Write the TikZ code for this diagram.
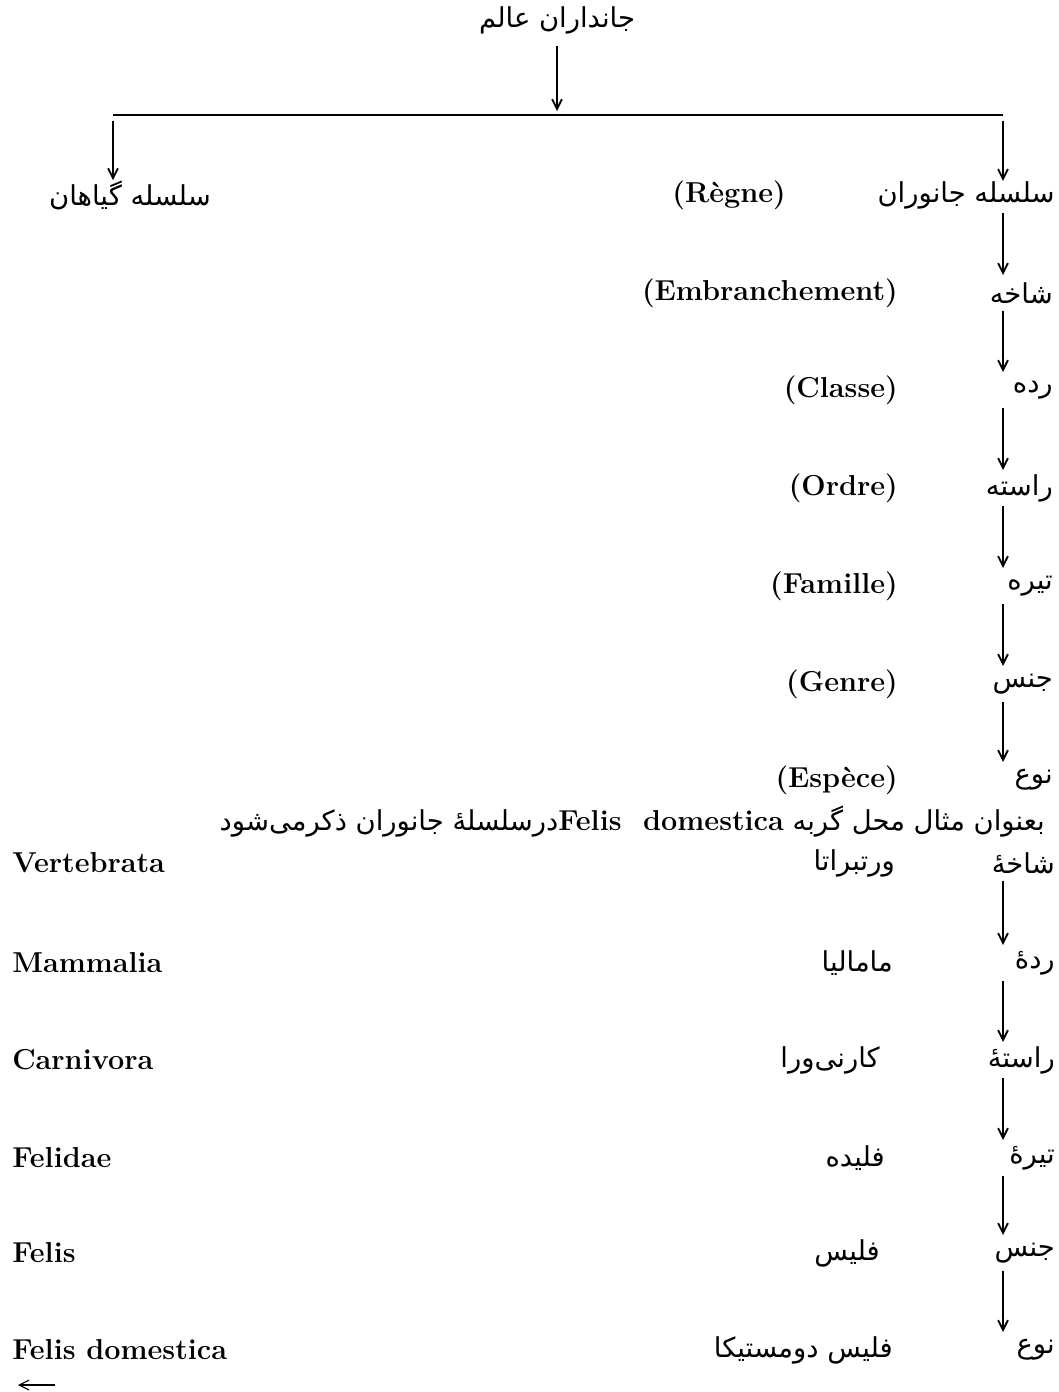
\documentclass[tikz,border=0pt]{standalone}
\usepackage{fontspec}
\usetikzlibrary{arrows.meta}
\TeXXeTstate=1
\newfontfamily\farsi[Script=Arabic]{DejaVu Sans}
\newcommand\fatext[1]{\beginR #1\endR}
\newcommand\latsize{\normalfont\bfseries\fontsize{20.5}{24}\selectfont}
\tikzset{
  fa/.style={font=\farsi\fontsize{19.5}{23}\selectfont, inner sep=0pt},
  lat/.style={font=\latsize, inner sep=0pt},
  arr/.style={-{Straight Barb[length=7pt,width=7pt]}, line width=1.3pt},
  link/.style={arr, shorten <=0.45cm, shorten >=0.45cm}
}
\begin{document}
\begin{tikzpicture}[x=0.025cm,y=-0.025cm]
  \useasboundingbox (0,0) rectangle (1058,1392);

  \node (world)   at (557,20)   [fa] {\fatext{جانداران عالم}};
  \node (plants)  at (130,195)  [fa] {\fatext{سلسله گیاهان}};
  \node (animals) at (1055,195) [fa,anchor=east] {\fatext{سلسله جانوران}};
  \node (phylum)  at (1053,293) [fa,anchor=east] {\fatext{شاخه}};
  \node (class)   at (1053,390) [fa,anchor=east] {\fatext{رده}};
  \node (order)   at (1053,488) [fa,anchor=east] {\fatext{راسته}};
  \node (family)  at (1053,586) [fa,anchor=east] {\fatext{تیره}};
  \node (genus)   at (1053,684) [fa,anchor=east] {\fatext{جنس}};
  \node (species) at (1053,780) [fa,anchor=east] {\fatext{نوع}};

  \node (regne)   at (786,195) [lat,anchor=east] {(Règne)};
  \node (embr)    at (898,293) [lat,anchor=east] {(Embranchement)};
  \node (classe)  at (898,390) [lat,anchor=east] {(Classe)};
  \node (ordre)   at (898,488) [lat,anchor=east] {(Ordre)};
  \node (famille) at (898,586) [lat,anchor=east] {(Famille)};
  \node (genre)   at (898,684) [lat,anchor=east] {(Genre)};
  \node (espece)  at (898,780) [lat,anchor=east] {(Espèce)};

  \node (example) at (1045,822) [fa,anchor=east]
    {\fatext{بعنوان مثال محل گربه \beginL{\latsize Felis\ \ domestica}\endL{}درسلسلهٔ جانوران ذکرمی‌شود}};

  \node (exphylum)  at (1055,863)  [fa,anchor=east] {\fatext{شاخهٔ}};
  \node (exclass)   at (1055,963)  [fa,anchor=east] {\fatext{ردهٔ}};
  \node (exorder)   at (1055,1060) [fa,anchor=east] {\fatext{راستهٔ}};
  \node (exfamily)  at (1055,1158) [fa,anchor=east] {\fatext{تیرهٔ}};
  \node (exgenus)   at (1055,1253) [fa,anchor=east] {\fatext{جنس}};
  \node (exspecies) at (1055,1350) [fa,anchor=east] {\fatext{نوع}};

  \node (fvert)  at (895,863)  [fa,anchor=east] {\fatext{ورتبراتا}};
  \node (fmamm)  at (893,963)  [fa,anchor=east] {\fatext{مامالیا}};
  \node (fcarn)  at (880,1060) [fa,anchor=east] {\fatext{کارنی‌ورا}};
  \node (ffeli)  at (885,1158) [fa,anchor=east] {\fatext{فلیده}};
  \node (ffelis) at (880,1253) [fa,anchor=east] {\fatext{فلیس}};
  \node (fdom)   at (893,1350) [fa,anchor=east] {\fatext{فلیس دومستیکا}};

  \node (vert)  at (12,863)  [lat,anchor=west] {Vertebrata};
  \node (mamm)  at (12,963)  [lat,anchor=west] {Mammalia};
  \node (carn)  at (12,1060) [lat,anchor=west] {Carnivora};
  \node (feli)  at (12,1158) [lat,anchor=west] {Felidae};
  \node (felis) at (12,1253) [lat,anchor=west] {Felis};
  \node (dom)   at (12,1350) [lat,anchor=west] {Felis domestica};

  \coordinate (spine) at (1003,0);
  \coordinate (split) at (557,115);
  \coordinate (lfoot) at (113,115);
  \coordinate (rfoot) at (1003,115);
  \coordinate (tail)  at (55,1385);
  \coordinate (tip)   at (18,1385);

  \draw[arr, shorten <=0.3cm, shorten >=0.1cm] (world) -- (split);
  \draw[line width=1.3pt] (lfoot) -- (rfoot);
  \draw[arr, shorten <=0.15cm] (lfoot) -- (lfoot |- plants.north);
  \draw[arr, shorten <=0.15cm] (rfoot) -- (rfoot |- animals.north);
  \foreach \a/\b in {animals/phylum, phylum/class, class/order, order/family,
                     family/genus, genus/species,
                     exphylum/exclass, exclass/exorder, exorder/exfamily,
                     exfamily/exgenus, exgenus/exspecies}
    \draw[link] (spine |- \a) -- (spine |- \b);
  \draw[arr, line width=0.8pt] (tail) -- (tip);
\end{tikzpicture}
\end{document}
